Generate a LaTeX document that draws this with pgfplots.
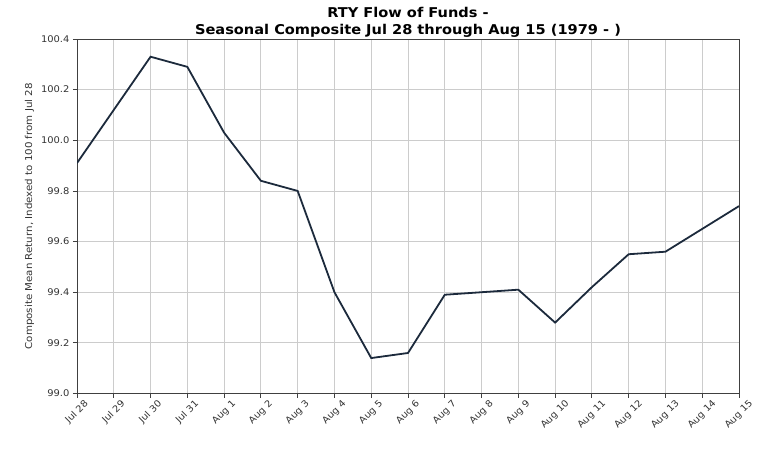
\documentclass[border=0pt]{standalone}
\usepackage{pgfplots}
\pgfplotsset{compat=1.18}
\usepackage{fontspec}
\setmainfont{DejaVu Sans}[FakeStretch=1.08]
\definecolor{linec}{HTML}{1C2A3C}
\definecolor{gridc}{HTML}{CCCCCC}
\begin{document}
\begin{tikzpicture}[x=1pt,y=1pt]
\path[use as bounding box] (0,0) rectangle (769,451);
\begin{axis}[
  at={(77pt,57.5pt)}, anchor=south west,
  scale only axis, width=662pt, height=354.5pt,
  xmin=0, xmax=18, ymin=99.0, ymax=100.4,
  xtick={0,...,18},
  xticklabels={\rotatebox{45}{Jul 28},\rotatebox{45}{Jul 29},\rotatebox{45}{Jul 30},\rotatebox{45}{Jul 31},\rotatebox{45}{Aug 1},\rotatebox{45}{Aug 2},\rotatebox{45}{Aug 3},\rotatebox{45}{Aug 4},\rotatebox{45}{Aug 5},\rotatebox{45}{Aug 6},\rotatebox{45}{Aug 7},\rotatebox{45}{Aug 8},\rotatebox{45}{Aug 9},\rotatebox{45}{Aug 10},\rotatebox{45}{Aug 11},\rotatebox{45}{Aug 12},\rotatebox{45}{Aug 13},\rotatebox{45}{Aug 14},\rotatebox{45}{Aug 15}},
  xticklabel style={anchor=north, font=\fontsize{9.2}{10}\selectfont, inner sep=1.5pt, text=black!80},
  ytick={99.0,99.2,...,100.4},
  yticklabel style={font=\fontsize{9.2}{11}\selectfont, text=black!80, /pgf/number format/.cd, fixed, fixed zerofill, precision=1},
  /pgf/number format/assume math mode=true,
  tick align=outside, tick pos=left, major tick length=4pt,
  tick style={color=black!75, line width=0.8pt},
  axis line style={color=black!75, line width=0.8pt},
  grid=major, major grid style={color=gridc, line width=0.8pt},
  ylabel={Composite Mean Return, Indexed to 100 from Jul 28},
  ylabel style={font=\fontsize{9.5}{11}\selectfont, text=black!80},
  title={\textbf{RTY Flow of Funds -}\\\textbf{Seasonal Composite Jul 28 through Aug 15 (1979 - )}},
  title style={font=\fontsize{13.5}{17.5}\selectfont, align=center, yshift=-8pt},
]
\addplot[color=linec, line width=1.8pt] coordinates {
(0,99.91) (1,100.12) (2,100.33) (3,100.29) (4,100.03) (5,99.84) (6,99.80)
(7,99.40) (8,99.14) (9,99.16) (10,99.39) (11,99.40) (12,99.41) (13,99.28)
(14,99.42) (15,99.55) (16,99.56) (17,99.65) (18,99.74)
};
\end{axis}
\end{tikzpicture}
\end{document}
